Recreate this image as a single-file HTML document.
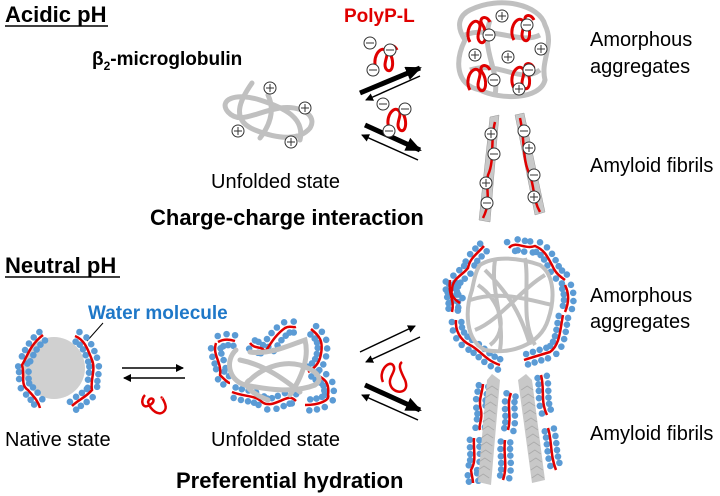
<!DOCTYPE html>
<html><head><meta charset="utf-8"><style>
html,body{margin:0;padding:0;background:#fff;}
svg{display:block;}
text{font-family:"Liberation Sans",Arial,sans-serif;}
</style></head><body>
<svg id="s" width="720" height="496" viewBox="0 0 720 496" xmlns="http://www.w3.org/2000/svg">
<defs>
<marker id="ah" markerWidth="8" markerHeight="8" refX="7" refY="4" orient="auto" markerUnits="userSpaceOnUse"><path d="M0,0 L8,4 L0,8 Z" fill="#000"/></marker>
<marker id="ahb" markerWidth="16" markerHeight="14" refX="14" refY="7" orient="auto" markerUnits="userSpaceOnUse"><path d="M0,0 L16,7 L0,14 Z" fill="#000"/></marker>
<g id="plus"><circle r="6" fill="#fff" stroke="#333" stroke-width="1"/><path d="M-4,0H4M0,-4V4" stroke="#333" stroke-width="1"/></g>
<g id="minus"><circle r="6" fill="#fff" stroke="#333" stroke-width="1"/><path d="M-4,0H4" stroke="#333" stroke-width="1"/></g>
<path id="sq" d="M-8,12 C-14,2 -6,-12 0,-8 C6,-4 -4,6 2,12 C8,16 10,2 4,-6 C0,-12 8,-16 12,-8" fill="none" stroke="#e00000" stroke-width="3"/>
</defs>

<!-- Titles -->
<text x="5" y="22" font-size="22" font-weight="bold">Acidic pH</text>
<line x1="5" y1="26" x2="108" y2="26" stroke="#000" stroke-width="1.5"/>
<text x="92" y="65" font-size="19" font-weight="bold">β<tspan font-size="12" dy="5">2</tspan><tspan dy="-5">-microglobulin</tspan></text>
<text x="344" y="22" font-size="19" font-weight="bold" fill="#e00000">PolyP-L</text>

<!-- unfolded coil acidic -->
<g fill="none" stroke="#c0c0c0" stroke-width="5" stroke-linecap="round">
<path d="M252,83 C240,100 230,120 255,130 C280,140 300,140 310,128 C318,115 300,105 280,108 C255,112 240,125 228,112 C218,100 235,92 260,100 C285,108 305,118 300,140"/>
<path d="M268,95 C275,110 270,125 260,138"/>
</g>
<use href="#plus" x="270" y="88"/><use href="#plus" x="305" y="108"/><use href="#plus" x="238" y="131"/><use href="#plus" x="291" y="142"/>
<text x="211" y="188" font-size="20">Unfolded state</text>
<text x="150" y="225" font-size="22" font-weight="bold">Charge-charge interaction</text>

<!-- acidic arrows -->
<line x1="360" y1="93" x2="420" y2="68" stroke="#000" stroke-width="5" marker-end="url(#ahb)"/>
<line x1="420" y1="76" x2="366" y2="100" stroke="#000" stroke-width="1.5" marker-end="url(#ah)"/>
<line x1="365" y1="125" x2="420" y2="150" stroke="#000" stroke-width="5" marker-end="url(#ahb)"/>
<line x1="418" y1="160" x2="362" y2="135" stroke="#000" stroke-width="1.5" marker-end="url(#ah)"/>
<use href="#sq" x="385" y="58"/><use href="#minus" x="370" y="43"/><use href="#minus" x="390" y="50"/><use href="#minus" x="373" y="70"/>
<use href="#sq" x="398" y="118"/><use href="#minus" x="383" y="104"/><use href="#minus" x="405" y="109"/><use href="#minus" x="389" y="131"/>

<!-- amorphous acidic -->
<g fill="none" stroke="#c0c0c0" stroke-width="5">
<path d="M470,10 C500,-5 540,5 545,25 C555,45 540,60 545,80 C540,100 500,100 480,90 C455,85 455,60 465,40 C455,25 460,15 470,10Z"/>
<path d="M465,35 C490,25 520,45 540,35 M470,70 C500,60 520,85 540,70 M490,20 C480,50 500,70 495,95"/>
</g>
<use href="#sq" x="478" y="30"/><use href="#sq" x="522" y="28"/><use href="#sq" x="478" y="78"/><use href="#sq" x="522" y="76"/>
<use href="#plus" x="502" y="16"/><use href="#minus" x="527" y="25"/><use href="#minus" x="489" y="35"/><use href="#plus" x="475" y="55"/><use href="#plus" x="508" y="57"/><use href="#plus" x="541" y="49"/><use href="#minus" x="529" y="70"/><use href="#minus" x="494" y="80"/><use href="#plus" x="519" y="89"/>
<text x="590" y="46" font-size="20">Amorphous</text>
<text x="590" y="73" font-size="20">aggregates</text>

<!-- acidic fibrils -->
<path d="M490,117 L499,115 L490,222 L479,220Z" fill="#c8c8c8" stroke="#999" stroke-width="0.5"/>
<path d="M515,115 L524,113 L545,212 L535,215Z" fill="#c8c8c8" stroke="#999" stroke-width="0.5"/>
<path d="M495,122 C490,140 495,160 488,175 C485,190 492,200 483,218" fill="none" stroke="#e00000" stroke-width="2.5"/>
<path d="M520,118 C525,140 522,160 530,175 C535,190 533,200 540,212" fill="none" stroke="#e00000" stroke-width="2.5"/>
<use href="#plus" x="491" y="134"/><use href="#minus" x="494" y="154"/><use href="#plus" x="486" y="183"/><use href="#minus" x="487" y="203"/>
<use href="#minus" x="524" y="131"/><use href="#plus" x="529" y="148"/><use href="#minus" x="534" y="175"/><use href="#plus" x="534" y="197"/>
<text x="590" y="172" font-size="20">Amyloid fibrils</text>

<!-- Neutral -->
<text x="5" y="273" font-size="22" font-weight="bold">Neutral pH</text>
<line x1="5" y1="277" x2="120" y2="277" stroke="#000" stroke-width="1.5"/>
<text x="88" y="319" font-size="19" font-weight="bold" fill="#1f78c8">Water molecule</text>
<line x1="103" y1="323" x2="87" y2="341" stroke="#000" stroke-width="1"/>

<circle cx="54" cy="368" r="31" fill="#d0d0d0"/>
<g id="dots" fill="#5b9bd5"></g>
<g fill="none" stroke="#e00000" stroke-width="2.5" id="reds">
<path class="h" d="M43,335 C30,345 28,355 22,365 C25,375 20,385 28,390 C32,395 38,400 40,408"/>
<path class="h" d="M75,336 C85,340 88,350 92,360 C96,370 90,380 92,390 C85,398 78,400 72,406"/>
<path class="h" d="M218,342 C225,338 232,340 235,341 M216,343 C212,355 222,362 220,375 C225,380 228,383 230,383"/>
<path class="h" d="M250,343 C255,350 262,345 265,352 C270,345 275,335 285,328 C290,325 293,328 296,327"/>
<path class="h" d="M311,329 C318,335 325,340 320,358 C318,365 312,370 308,372"/>
<path class="h" d="M315,374 C322,378 330,380 328,395 C330,400 320,405 305,405"/>
<path class="h" d="M232,392 C245,397 255,395 262,402 C270,408 280,400 288,398 C292,397 295,400 296,401"/>
<path class="h" d="M484,246 C476,255 470,258 468,268 C463,275 452,278 452,290 C450,295 455,300 460,303"/>
<path class="h" d="M509,248 C515,240 525,250 535,246 C545,250 548,258 552,265 C555,272 558,275 565,280"/>
<path class="h" d="M456,320 C455,330 460,340 470,345 C480,350 485,360 500,365"/>
<path class="h" d="M563,315 C560,330 560,345 550,352 C540,355 530,358 524,360"/>
<path class="h" d="M450,280 C448,295 455,300 452,312"/>
<path class="h" d="M565,285 C570,295 568,305 565,312"/>
<path class="h" d="M483,384 C482,395 478,400 481,410 C483,420 478,425 480,430"/>
<path class="h" d="M474,438 C473,450 477,460 471,470 C472,477 473,480 473,483"/>
<path class="h" d="M511,393 C506,405 512,415 508,430"/>
<path class="h" d="M505,440 C503,455 508,465 503,480"/>
<path class="h" d="M541,375 C545,390 540,400 547,415"/>
<path class="h" d="M548,428 C552,440 550,455 556,470"/>
</g>
<g fill="none" stroke="#c0c0c0" stroke-width="5" stroke-linecap="round">
<path d="M236,350 C225,360 228,380 245,385 C270,390 295,393 315,385 C325,378 315,370 300,365 C280,360 260,370 250,380 C240,385 255,395 268,400"/>
<path d="M250,352 C270,355 290,345 305,340 C310,360 300,380 290,395 M240,360 C265,365 285,380 300,392"/>
</g>
<text x="5" y="446" font-size="20">Native state</text>
<text x="211" y="446" font-size="20">Unfolded state</text>
<text x="176" y="488" font-size="22" font-weight="bold">Preferential hydration</text>

<!-- neutral arrows -->
<line x1="122" y1="368" x2="183" y2="368" stroke="#000" stroke-width="1.5" marker-end="url(#ah)"/>
<line x1="185" y1="378" x2="124" y2="378" stroke="#000" stroke-width="1.5" marker-end="url(#ah)"/>
<path d="M145,395 C140,400 142,410 150,405 C158,400 150,395 148,402 C150,410 160,418 165,410 C168,405 160,395 162,398" fill="none" stroke="#e00000" stroke-width="2.5"/>
<line x1="360" y1="352" x2="415" y2="326" stroke="#000" stroke-width="1.5" marker-end="url(#ah)"/>
<line x1="420" y1="337" x2="366" y2="362" stroke="#000" stroke-width="1.5" marker-end="url(#ah)"/>
<line x1="365" y1="385" x2="420" y2="410" stroke="#000" stroke-width="5" marker-end="url(#ahb)"/>
<line x1="418" y1="420" x2="362" y2="395" stroke="#000" stroke-width="1.5" marker-end="url(#ah)"/>
<path d="M383,382 C378,372 388,360 393,365 C398,372 385,378 392,388 C398,395 410,392 405,380 C400,370 398,365 402,362" fill="none" stroke="#e00000" stroke-width="2.5"/>

<g fill="none" stroke="#c0c0c0" stroke-width="4">
<path d="M480,265 C495,255 520,258 540,265 C555,275 555,300 548,320 C540,345 510,355 485,350 C465,340 465,310 472,290 C474,280 476,270 480,265Z"/>
<path d="M485,270 C505,290 520,310 530,345 M545,275 C520,290 500,320 475,330 M470,300 C500,290 530,300 552,305 M495,260 C490,290 505,320 500,350 M525,258 C530,285 520,320 535,345 M478,285 C500,300 510,330 490,345"/>
</g>
<text x="590" y="302" font-size="20">Amorphous</text>
<text x="590" y="328" font-size="20">aggregates</text>

<path d="M487,380 L492,374 L500,380 L491,485 L478,482Z" fill="#c8c8c8"/>
<path d="M518,380 L526,374 L532,380 L545,480 L532,483Z" fill="#c8c8c8"/>
<g stroke="#aaa" stroke-width="0.8" fill="none" id="chev"></g>
<text x="590" y="440" font-size="20">Amyloid fibrils</text>
</svg>
<script>
(function(){
var ns="http://www.w3.org/2000/svg",d=document.getElementById("dots");
document.querySelectorAll("#reds path.h").forEach(function(p){
 var L=p.getTotalLength();
 for(var l=2;l<L;l+=7){
  var a=p.getPointAtLength(l),b=p.getPointAtLength(Math.min(L,l+1));
  var dx=b.x-a.x,dy=b.y-a.y,n=Math.hypot(dx,dy)||1;
  [-5.5,5.5].forEach(function(o,i){
   var c=document.createElementNS(ns,"circle");
   c.setAttribute("cx",a.x-dy/n*o+(i?1.5:0));c.setAttribute("cy",a.y+dx/n*o);
   c.setAttribute("r",3.3);d.appendChild(c);});
 }});
var ch=document.getElementById("chev");
for(var y=390;y<480;y+=8){
 var p=document.createElementNS(ns,"path");
 var x1=493-(y-380)*0.1;p.setAttribute("d","M"+(x1-6)+","+y+" L"+x1+","+(y-4)+" L"+(x1+6)+","+y);ch.appendChild(p);
 var q=document.createElementNS(ns,"path");
 var x2=526+(y-380)*0.12;q.setAttribute("d","M"+(x2-6)+","+y+" L"+x2+","+(y-4)+" L"+(x2+6)+","+y);ch.appendChild(q);
}})();
</script>
</body></html>
